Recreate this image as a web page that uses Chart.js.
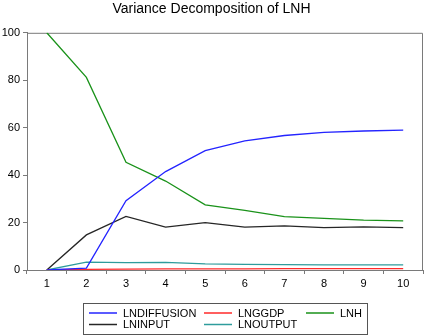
<!DOCTYPE html>
<html lang="en">
<head>
<meta charset="UTF-8">
<title>Variance Decomposition of LNH</title>
<script src="https://cdn.jsdelivr.net/npm/chart.js"></script>
<style>
html, body {
	margin: 0;
	padding: 0;
	background: #fff;
}

.wrap {
	position: relative;
	width: 425px;
	height: 336px;
}
</style>
</head>
<body>
<div class="wrap">
	<canvas id="chartVD"></canvas>
</div>
<script>
const periods = ['1', '2', '3', '4', '5', '6', '7', '8', '9', '10'];
const yTicks = [0, 20, 40, 60, 80, 100];

const lnDiffusion = [0, 0.8, 29.2, 41.5, 50.3, 54.4, 56.7, 58.0, 58.6, 59.0];
const lnGgdp = [0, 0.3, 0.4, 0.5, 0.5, 0.5, 0.6, 0.6, 0.6, 0.6];
const lnH = [100, 81.2, 45.4, 37.5, 27.5, 25.1, 22.5, 21.8, 21.0, 20.7];
const lnInput = [0, 14.8, 22.6, 18.1, 20.0, 18.1, 18.6, 17.9, 18.2, 17.9];
const lnOutput = [0, 3.3, 3.1, 3.2, 2.6, 2.4, 2.3, 2.2, 2.2, 2.2];

const seriesNames = ['LNDIFFUSION', 'LNGGDP', 'LNH', 'LNINPUT', 'LNOUTPUT'];
const seriesData = [lnDiffusion, lnGgdp, lnH, lnInput, lnOutput];
const seriesColors = ['#2424ff', '#ff2a2a', '#1a921a', '#262626', '#2e9c9c'];

const axisGrey = '#7a7a7a';
const fontName = '"Liberation Sans", Arial, sans-serif';

// legend drawn in a box, 3 columns like the EViews output
const boxLegend = {
	id: 'boxLegend',
	afterDraw(chart) {
		const ctx = chart.ctx;
		ctx.save();
		ctx.strokeStyle = '#555';
		ctx.lineWidth = 1;
		ctx.strokeRect(83.5, 303.5, 284, 31);
		const colX = [89, 204, 306];
		const rowY = [313, 324.5];
		ctx.font = '11px ' + fontName;
		ctx.textBaseline = 'middle';
		chart.data.datasets.forEach((ds, i) => {
			const x = colX[i % 3];
			const y = rowY[Math.floor(i / 3)];
			ctx.strokeStyle = ds.borderColor;
			ctx.lineWidth = 1.5;
			ctx.beginPath();
			ctx.moveTo(x, y);
			ctx.lineTo(x + 28, y);
			ctx.stroke();
			ctx.fillStyle = '#000';
			ctx.fillText(ds.label, x + 34, y + 0.5);
		});
		ctx.restore();
	}
};

// grey frame on the top and right of the plot
const frame = {
	id: 'frame',
	beforeDatasetsDraw(chart) {
		const a = chart.chartArea;
		const ctx = chart.ctx;
		ctx.save();
		ctx.strokeStyle = axisGrey;
		ctx.lineWidth = 1;
		ctx.beginPath();
		ctx.moveTo(a.left, a.top + 0.5);
		ctx.lineTo(a.right - 0.5, a.top + 0.5);
		ctx.lineTo(a.right - 0.5, a.bottom);
		ctx.stroke();
		ctx.restore();
	}
};

const ctx = document.getElementById('chartVD').getContext('2d');
const myChart = new Chart(ctx, {
	type: 'line',
	data: {
		labels: periods,
		datasets: seriesNames.map((name, i) => ({
			label: name,
			data: seriesData[i],
			borderColor: seriesColors[i],
			backgroundColor: seriesColors[i],
			borderWidth: 1.3,
			pointRadius: 0,
			tension: 0
		}))
	},
	options: {
		responsive: true,
		maintainAspectRatio: false,
		animation: false,
		layout: {
			padding: { top: 0, right: 2, left: 0, bottom: 0 }
		},
		plugins: {
			legend: { display: false },
			tooltip: { enabled: false },
			title: {
				display: true,
				text: 'Variance Decomposition of LNH',
				color: '#000',
				font: { family: fontName, size: 14, weight: 'normal' },
				padding: { top: 1, bottom: 15 }
			}
		},
		scales: {
			x: {
				offset: true,
				grid: {
					offset: true,
					drawOnChartArea: false,
					drawTicks: true,
					tickLength: 4,
					color: axisGrey
				},
				border: { color: axisGrey, width: 1 },
				ticks: {
					color: '#000',
					padding: 3,
					maxRotation: 0,
					font: { family: fontName, size: 11 }
				},
				afterFit(scale) {
					scale.height = 66;
				}
			},
			y: {
				min: 0,
				max: 100,
				afterBuildTicks(scale) {
					scale.ticks = yTicks.map(v => ({ value: v }));
				},
				grid: {
					drawOnChartArea: false,
					drawTicks: true,
					tickLength: 4,
					color: axisGrey
				},
				border: { color: axisGrey, width: 1 },
				ticks: {
					color: '#000',
					padding: 3,
					font: { family: fontName, size: 11 }
				},
				afterFit(scale) {
					scale.width = 27;
				}
			}
		}
	},
	plugins: [frame, boxLegend]
});
</script>
</body>
</html>
